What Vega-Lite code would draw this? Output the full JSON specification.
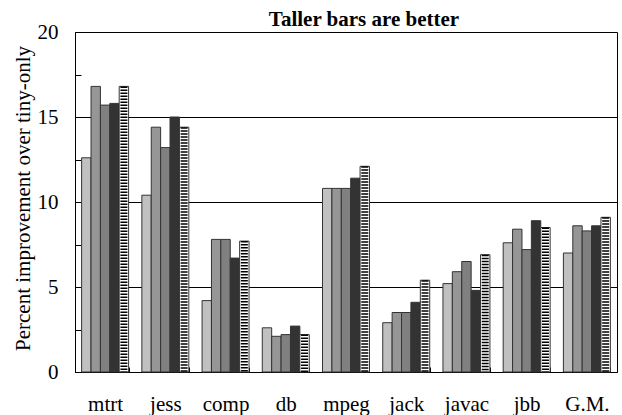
{
  "$schema": "https://vega.github.io/schema/vega-lite/v6.json",
  "width": 542,
  "height": 340,
  "autosize": "none",
  "padding": {"left": 75, "top": 32, "right": 5, "bottom": 43},
  "background": "white",
  "title": {"text": "Taller bars are better", "font": "Liberation Serif, Times New Roman, DejaVu Serif, serif", "fontSize": 21, "fontWeight": "bold", "color": "black", "anchor": "middle", "frame": "group", "dx": 18, "dy": 32, "baseline": "alphabetic", "offset": 6},
  "config": {"view": {"stroke": "black", "strokeWidth": 1}, "font": "Liberation Serif, Times New Roman, DejaVu Serif, serif"},
  "data": {"values": [
    {"bench": "mtrt", "config": "A", "value": 12.6}, {"bench": "mtrt", "config": "B", "value": 16.8}, {"bench": "mtrt", "config": "C", "value": 15.7}, {"bench": "mtrt", "config": "D", "value": 15.8}, {"bench": "mtrt", "config": "E", "value": 16.8},
    {"bench": "jess", "config": "A", "value": 10.4}, {"bench": "jess", "config": "B", "value": 14.4}, {"bench": "jess", "config": "C", "value": 13.2}, {"bench": "jess", "config": "D", "value": 15.0}, {"bench": "jess", "config": "E", "value": 14.4},
    {"bench": "comp", "config": "A", "value": 4.2}, {"bench": "comp", "config": "B", "value": 7.8}, {"bench": "comp", "config": "C", "value": 7.8}, {"bench": "comp", "config": "D", "value": 6.7}, {"bench": "comp", "config": "E", "value": 7.7},
    {"bench": "db", "config": "A", "value": 2.6}, {"bench": "db", "config": "B", "value": 2.1}, {"bench": "db", "config": "C", "value": 2.2}, {"bench": "db", "config": "D", "value": 2.7}, {"bench": "db", "config": "E", "value": 2.2},
    {"bench": "mpeg", "config": "A", "value": 10.8}, {"bench": "mpeg", "config": "B", "value": 10.8}, {"bench": "mpeg", "config": "C", "value": 10.8}, {"bench": "mpeg", "config": "D", "value": 11.4}, {"bench": "mpeg", "config": "E", "value": 12.1},
    {"bench": "jack", "config": "A", "value": 2.9}, {"bench": "jack", "config": "B", "value": 3.5}, {"bench": "jack", "config": "C", "value": 3.5}, {"bench": "jack", "config": "D", "value": 4.1}, {"bench": "jack", "config": "E", "value": 5.4},
    {"bench": "javac", "config": "A", "value": 5.2}, {"bench": "javac", "config": "B", "value": 5.9}, {"bench": "javac", "config": "C", "value": 6.5}, {"bench": "javac", "config": "D", "value": 4.8}, {"bench": "javac", "config": "E", "value": 6.9},
    {"bench": "jbb", "config": "A", "value": 7.6}, {"bench": "jbb", "config": "B", "value": 8.4}, {"bench": "jbb", "config": "C", "value": 7.2}, {"bench": "jbb", "config": "D", "value": 8.9}, {"bench": "jbb", "config": "E", "value": 8.5},
    {"bench": "G.M.", "config": "A", "value": 7.0}, {"bench": "G.M.", "config": "B", "value": 8.6}, {"bench": "G.M.", "config": "C", "value": 8.3}, {"bench": "G.M.", "config": "D", "value": 8.6}, {"bench": "G.M.", "config": "E", "value": 9.1}
  ]},
  "encoding": {
    "x": {
      "field": "bench", "type": "nominal",
      "sort": ["mtrt", "jess", "comp", "db", "mpeg", "jack", "javac", "jbb", "G.M."],
      "scale": {"paddingInner": 0.22, "paddingOuter": 0.11},
      "axis": {"title": null, "labelAngle": 0, "labelFont": "Liberation Serif, Times New Roman, DejaVu Serif, serif", "labelFontSize": 21, "labelColor": "black", "labelBaseline": "alphabetic", "tickSize": -5, "labelPadding": 43, "tickColor": "black", "domainColor": "black", "tickBand": "extent"}
    },
    "xOffset": {"field": "config", "type": "nominal", "sort": ["A", "B", "C", "D", "E"], "scale": {"paddingInner": 0, "paddingOuter": 0}},
    "y": {
      "field": "value", "type": "quantitative",
      "scale": {"domain": [0, 20], "nice": false},
      "axis": {
        "title": "Percent improvement over tiny-only",
        "values": [0, 2.5, 5, 7.5, 10, 12.5, 15, 17.5, 20],
        "labelExpr": "datum.value % 5 === 0 ? datum.label : ''",
        "grid": true, "gridColor": "black",
        "gridOpacity": {"condition": {"test": "datum.value % 5 === 0 && datum.value > 0 && datum.value < 20", "value": 1}, "value": 0},
        "tickSize": -6, "tickColor": "black", "domainColor": "black",
        "labelFont": "Liberation Serif, Times New Roman, DejaVu Serif, serif", "labelFontSize": 21, "labelColor": "black", "labelPadding": 23,
        "titleFont": "Liberation Serif, Times New Roman, DejaVu Serif, serif", "titleFontSize": 21, "titleFontWeight": "normal", "titleColor": "black",
        "titleX": -46, "titleY": 166, "titleAngle": -90, "titleBaseline": "alphabetic", "titleAlign": "center"
      }
    }
  },
  "layer": [
    {
      "mark": {"type": "bar", "stroke": "#333333", "strokeWidth": 1},
      "encoding": {
        "fill": {"field": "config", "type": "nominal", "scale": {"domain": ["A", "B", "C", "D", "E"], "range": ["#c0c0c0", "#969696", "#808080", "#333333", "#ffffff"]}, "legend": null}
      }
    },
    {
      "transform": [{"filter": "datum.config === 'E'"}],
      "mark": {"type": "rule", "strokeWidth": 7, "strokeDash": [1.5, 1.5], "color": "black"},
      "encoding": {"y2": {"datum": 0}}
    }
  ]
}
